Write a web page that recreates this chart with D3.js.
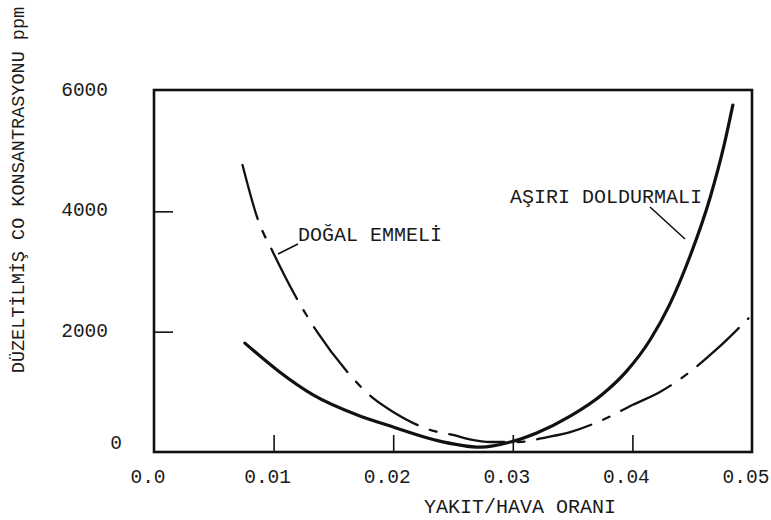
<!DOCTYPE html>
<html>
<head>
<meta charset="utf-8">
<script src="https://cdn.jsdelivr.net/npm/d3@7"></script>
<style>
  html, body { margin: 0; padding: 0; background: #fff; }
  svg text { font-family: "Courier New", "Nimbus Mono PS", "FreeMono", "Liberation Mono", "DejaVu Sans Mono", monospace; fill: #1a1a1a; }
</style>
</head>
<body>
<svg id="chart" width="771" height="520"></svg>
<script>
// ---- data ----
const xTickValues = [0.0, 0.01, 0.02, 0.03, 0.04, 0.05];
const xTickLabels = ["0.0", "0.01", "0.02", "0.03", "0.04", "0.05"];
const yTickValues = [0, 2000, 4000, 6000];
const yTickLabels = ["0", "2000", "4000", "6000"];

// AŞIRI DOLDURMALI (solid)
const asiriX = [0.0076, 0.0105, 0.0133, 0.0170, 0.0200, 0.0235, 0.0273, 0.0298, 0.0320, 0.0348, 0.0375, 0.0395, 0.0415, 0.0431, 0.0448, 0.0465, 0.0477, 0.0484];
const asiriY = [1810, 1330, 950, 615, 415, 200, 80, 165, 316, 596, 960, 1340, 1870, 2446, 3245, 4231, 5130, 5767];

// DOĞAL EMMELİ (dash-dot)
const dogalX = [0.0074, 0.0087, 0.0100, 0.0118, 0.0137, 0.0160, 0.0183, 0.0200, 0.0231, 0.0250, 0.0265, 0.0281, 0.0304, 0.0329, 0.0348, 0.0375, 0.0400, 0.0423, 0.0448, 0.0470, 0.0497];
const dogalY = [4770, 3856, 3300, 2600, 1978, 1370, 898, 665, 366, 283, 205, 166, 166, 249, 332, 532, 780, 997, 1330, 1700, 2220];

const xTitle = "YAKIT/HAVA ORANI";
const yTitle = "DÜZELTİLMİŞ CO KONSANTRASYONU ppm";
const labelAsiri = "AŞIRI DOLDURMALI";
const labelDogal = "DOĞAL EMMELİ";

// ---- layout ----
const svg = d3.select("#chart");
const L = 154, R = 752, T = 90, B = 452;
const x = d3.scaleLinear().domain([0, 0.05]).range([L, R]);
const y = d3.scaleLinear().domain([0, 6000]).range([B, T + 1]);

// frame
svg.append("rect")
  .attr("x", L).attr("y", T).attr("width", R - L).attr("height", B - T)
  .attr("fill", "none").attr("stroke", "#111").attr("stroke-width", 2.6);

// inside ticks via axes
const xAxis = d3.axisBottom(x).tickValues([0.01, 0.02, 0.03, 0.04]).tickSize(-17).tickFormat("");
const gx = svg.append("g").attr("transform", `translate(0,${B})`).call(xAxis);
const yAxis = d3.axisLeft(y).tickValues([2000, 4000]).tickSize(-19).tickFormat("");
const gy = svg.append("g").attr("transform", `translate(${L},0)`).call(yAxis);
[gx, gy].forEach(g => {
  g.select(".domain").remove();
  g.selectAll(".tick line").attr("stroke", "#111").attr("stroke-width", 1.6);
});

// x tick labels
svg.append("g").selectAll("text")
  .data(xTickValues)
  .join("text")
  .attr("x", d => x(d) - 6)
  .attr("y", 483)
  .attr("text-anchor", "middle")
  .attr("font-size", 19.5)
  .text((d, i) => xTickLabels[i]);

// y tick labels
svg.append("g").selectAll("text")
  .data(yTickValues)
  .join("text")
  .attr("x", d => d === 0 ? 122 : 108)
  .attr("y", d => d === 0 ? y(d) - 3 : y(d) + 5)
  .attr("text-anchor", "end")
  .attr("font-size", 19.5)
  .text((d, i) => yTickLabels[i]);

// titles
svg.append("text")
  .attr("x", 520).attr("y", 513)
  .attr("text-anchor", "middle")
  .attr("font-size", 20)
  .text(xTitle);

svg.append("text")
  .attr("transform", "translate(24,190) rotate(-90)")
  .attr("text-anchor", "middle")
  .attr("font-size", 18.5)
  .text(yTitle);

// curves
const line = d3.line().x(d => x(d[0])).y(d => y(d[1])).curve(d3.curveMonotoneX);
const asiri = asiriX.map((v, i) => [v, asiriY[i]]);
const dogal = dogalX.map((v, i) => [v, dogalY[i]]);

svg.append("path")
  .attr("d", line(dogal))
  .attr("fill", "none").attr("stroke", "#111")
  .attr("stroke-width", 2.3)
  .attr("stroke-linecap", "round")
  .attr("stroke-dasharray", "56 13 7 13");

svg.append("path")
  .attr("d", line(asiri))
  .attr("fill", "none").attr("stroke", "#111")
  .attr("stroke-width", 3.2)
  .attr("stroke-linecap", "round");

// labels and leader lines
svg.append("text")
  .attr("x", 510).attr("y", 203)
  .attr("font-size", 20)
  .text(labelAsiri);
svg.append("line")
  .attr("x1", 650).attr("y1", 207).attr("x2", 685).attr("y2", 239)
  .attr("stroke", "#111").attr("stroke-width", 1.6);

svg.append("text")
  .attr("x", 298).attr("y", 241)
  .attr("font-size", 20)
  .text(labelDogal);
svg.append("line")
  .attr("x1", 298).attr("y1", 244).attr("x2", 278).attr("y2", 254)
  .attr("stroke", "#111").attr("stroke-width", 1.6);
</script>
</body>
</html>
